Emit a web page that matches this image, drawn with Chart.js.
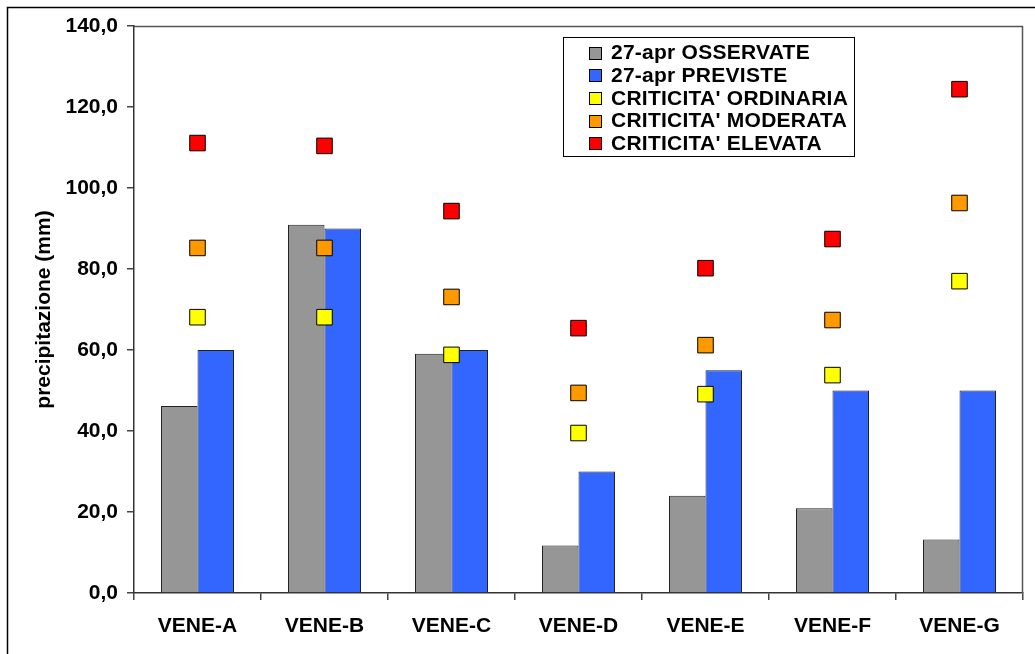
<!DOCTYPE html>
<html>
<head>
<meta charset="utf-8">
<title>Precipitazione 27-apr</title>
<script src="https://cdn.jsdelivr.net/npm/chart.js@4/dist/chart.umd.min.js"></script>
<style>
  html, body { margin: 0; padding: 0; background: #fff; overflow: hidden; }
  #wrap { position: relative; width: 1035px; height: 654px; }
  canvas { display: block; }
</style>
</head>
<body>
<div id="wrap"><canvas id="c" width="1035" height="654"></canvas></div>
<script>
// Zone di allerta
const zone = ['VENE-A', 'VENE-B', 'VENE-C', 'VENE-D', 'VENE-E', 'VENE-F', 'VENE-G'];

// Precipitazioni (mm)
const osservate = [46.2, 90.9, 59.1, 11.7, 24.0, 20.9, 13.2];
const previste  = [60.0, 90.0, 60.0, 30.0, 55.0, 50.0, 50.0];

// Soglie di criticità (mm)
const sogliaOrdinaria = [68.1, 68.1, 58.8, 39.5, 49.1, 53.8, 77.0];
const sogliaModerata  = [85.2, 85.2, 73.1, 49.4, 61.2, 67.4, 96.3];
const sogliaElevata   = [111.1, 110.4, 94.3, 65.4, 80.2, 87.4, 124.4];

// Asse y
const yMin = 0, yMax = 140, yStep = 20;

const FONT = '"Liberation Sans", Arial, sans-serif';

function marker(label, data, color) {
  return {
    type: 'line', label, data, order: 1,
    showLine: false,
    pointStyle: 'rect', pointRadius: 11, pointHoverRadius: 11,
    pointBackgroundColor: color, pointBorderColor: '#000', pointBorderWidth: 1,
    backgroundColor: color, borderColor: '#000'
  };
}

// Cornice esterna, bordo dell'area del grafico e legenda
const decor = {
  id: 'decor',
  beforeDraw(chart) {
    const ctx = chart.ctx;
    ctx.save();
    ctx.strokeStyle = '#000';
    ctx.lineWidth = 1.5;
    ctx.beginPath();
    ctx.moveTo(7.5, 660);
    ctx.lineTo(7.5, 7.5);
    ctx.lineTo(1040, 7.5);
    ctx.stroke();
    ctx.restore();
  },
  afterDatasetsDraw(chart) {
    const ctx = chart.ctx;
    const a = chart.chartArea;
    ctx.save();
    ctx.strokeStyle = '#555';
    ctx.lineWidth = 1.5;
    ctx.beginPath();
    ctx.moveTo(a.left, a.top + 0.5);
    ctx.lineTo(a.right - 0.5, a.top + 0.5);
    ctx.lineTo(a.right - 0.5, a.bottom);
    ctx.stroke();
    ctx.restore();
  },
  afterDraw(chart) {
    const ctx = chart.ctx;
    const box = { x: 563.5, y: 37.5, w: 291, h: 119 };
    ctx.save();
    ctx.fillStyle = '#fff';
    ctx.fillRect(box.x, box.y, box.w, box.h);
    ctx.strokeStyle = '#000';
    ctx.lineWidth = 1;
    ctx.strokeRect(box.x, box.y, box.w, box.h);
    ctx.font = 'bold 21px ' + FONT;
    if ('letterSpacing' in ctx) ctx.letterSpacing = '0.25px';
    ctx.textBaseline = 'middle';
    ctx.textAlign = 'left';
    chart.data.datasets.forEach((ds, i) => {
      const cy = 52.5 + i * 22.7;
      const col = ds.type === 'line' ? ds.pointBackgroundColor : ds.backgroundColor;
      ctx.fillStyle = col;
      ctx.fillRect(589.5, Math.round(cy - 6) + 0.5, 12, 12);
      ctx.strokeStyle = '#000';
      ctx.strokeRect(589.5, Math.round(cy - 6) + 0.5, 12, 12);
      ctx.fillStyle = '#000';
      ctx.fillText(ds.label, 611, cy + 1);
    });
    ctx.restore();
  }
};

new Chart(document.getElementById('c'), {
  data: {
    labels: zone,
    datasets: [
      { type: 'bar', label: '27-apr OSSERVATE', data: osservate, order: 2,
        backgroundColor: '#969696', borderColor: '#222', borderWidth: 1,
        categoryPercentage: 0.575, barPercentage: 1 },
      { type: 'bar', label: '27-apr PREVISTE', data: previste, order: 2,
        backgroundColor: '#3366FF', borderColor: '#222', borderWidth: 1,
        categoryPercentage: 0.575, barPercentage: 1 },
      marker("CRITICITA' ORDINARIA", sogliaOrdinaria, '#FFFF00'),
      marker("CRITICITA' MODERATA", sogliaModerata, '#FF9900'),
      marker("CRITICITA' ELEVATA", sogliaElevata, '#FF0000')
    ]
  },
  options: {
    responsive: false,
    animation: false,
    devicePixelRatio: 1,
    layout: { padding: { left: 32, top: 26, right: 12, bottom: 0 } },
    plugins: { legend: { display: false }, tooltip: { enabled: false } },
    events: [],
    scales: {
      x: {
        type: 'category',
        offset: true,
        grid: { display: true, offset: true, drawOnChartArea: false, drawTicks: true,
                tickLength: 7, color: '#444', lineWidth: 1.5 },
        border: { display: true, color: '#333', width: 1.5 },
        ticks: { color: '#000', font: { family: FONT, size: 21, weight: 'bold' }, padding: 14,
                 maxRotation: 0 },
        afterFit(s) { s.height = 61; }
      },
      y: {
        min: yMin, max: yMax,
        grid: { display: true, drawOnChartArea: false, drawTicks: true,
                tickLength: 7, color: '#444', lineWidth: 1.5 },
        border: { display: true, color: '#333', width: 1.5 },
        ticks: {
          stepSize: yStep, color: '#000', padding: 9,
          font: { family: FONT, size: 21, weight: 'bold' },
          callback: v => v.toFixed(1).replace('.', ',')
        },
        title: { display: true, text: 'precipitazione (mm)', color: '#000',
                 font: { family: FONT, size: 21, weight: 'bold' }, padding: 0 },
        afterFit(s) { s.width = 102; }
      }
    }
  },
  plugins: [decor]
});
</script>
</body>
</html>
